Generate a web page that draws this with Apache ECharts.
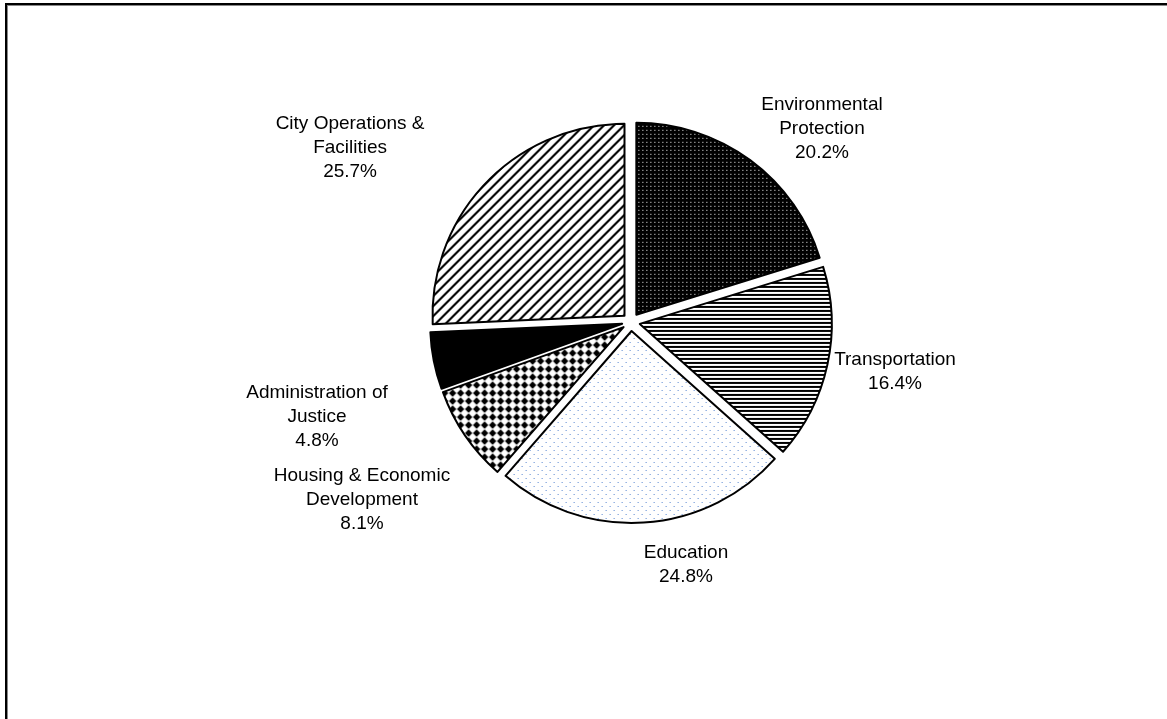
<!DOCTYPE html>
<html>
<head>
<meta charset="utf-8">
<script src="https://cdn.jsdelivr.net/npm/echarts@6/dist/echarts.min.js"></script>
<style>
  html, body { margin: 0; padding: 0; background: #fff; }
  #chart { width: 1167px; height: 719px; }
</style>
</head>
<body>
<div id="chart"></div>
<script>
// ---- data ----
const categories = [
  'Environmental\nProtection',
  'Transportation',
  'Education',
  'Housing & Economic\nDevelopment',
  'Administration of\nJustice',
  'City Operations &\nFacilities'
];
const shares = [20.2, 16.4, 24.8, 8.1, 4.8, 25.7];

// ---- style: label placement (label line lengths, line hidden) ----
const labelLen1 = [38.6, 34.8, 42.5, 114.2, 289.7, 50.8];
const labelLen2 = [43.9, 28.6, 34.7, 3.9, -172.4, 94];

// ---- patterns ----
function tile(w, h, draw) {
  const c = document.createElement('canvas');
  c.width = w; c.height = h;
  const ctx = c.getContext('2d');
  draw(ctx, w, h);
  return { image: c, repeat: 'repeat' };
}
function pixels(w, h, fn) {
  return tile(w, h, function (ctx) {
    const img = ctx.createImageData(w, h);
    for (let y = 0; y < h; y++) {
      for (let x = 0; x < w; x++) {
        const col = fn(x, y);
        const i = (y * w + x) * 4;
        img.data[i] = col[0]; img.data[i + 1] = col[1]; img.data[i + 2] = col[2]; img.data[i + 3] = 255;
      }
    }
    ctx.putImageData(img, 0, 0);
  });
}
const BLACK = [0, 0, 0], WHITE = [255, 255, 255];
const patDots = pixels(4, 4, (x, y) => (x === 1 && y === 1) ? WHITE : BLACK);
const patHoriz = pixels(4, 4, (x, y) => (y < 2) ? BLACK : WHITE);
const patBlue = pixels(8, 8, (x, y) => ((x === 1 && y === 1) || (x === 5 && y === 5)) ? [90, 135, 210] : WHITE);
const patDiamond = tile(8, 8, function (ctx) {
  ctx.fillStyle = '#fff'; ctx.fillRect(0, 0, 8, 8);
  ctx.fillStyle = '#000';
  ctx.beginPath();
  ctx.moveTo(4, 0.3); ctx.lineTo(7.7, 4); ctx.lineTo(4, 7.7); ctx.lineTo(0.3, 4);
  ctx.closePath(); ctx.fill();
});
const patDiag = pixels(10, 10, (x, y) => (((x + y) % 10) < 3) ? BLACK : WHITE);
const fills = [patDots, patHoriz, patBlue, patDiamond, '#000', patDiag];

const chart = echarts.init(document.getElementById('chart'), null, { renderer: 'canvas' });

const data = categories.map((name, i) => ({
  name: name,
  value: shares[i],
  selected: true,
  itemStyle: { color: fills[i] },
  labelLine: { show: false, length: labelLen1[i], length2: labelLen2[i] }
}));

chart.setOption({
  backgroundColor: '#fff',
  animation: false,
  graphic: [
    { type: 'rect', shape: { x: 5, y: 3, width: 1162, height: 2 }, style: { fill: '#000' } },
    { type: 'rect', shape: { x: 7, y: 5, width: 1160, height: 1 }, style: { fill: '#888' } },
    { type: 'rect', shape: { x: 5, y: 3, width: 2, height: 716 }, style: { fill: '#000' } },
    { type: 'rect', shape: { x: 7, y: 5, width: 1, height: 714 }, style: { fill: '#888' } }
  ],
  series: [{
    type: 'pie',
    center: [631, 322],
    radius: [0, 192],
    startAngle: 90,
    clockwise: true,
    selectedMode: 'multiple',
    selectedOffset: 9,
    avoidLabelOverlap: false,
    silent: true,
    emphasis: { disabled: true },
    itemStyle: { borderColor: '#000', borderWidth: 2 },
    select: { itemStyle: { borderColor: '#000', borderWidth: 2 } },
    label: {
      show: true,
      position: 'outside',
      color: '#000',
      fontFamily: '"Liberation Sans", Arial, sans-serif',
      fontSize: 19,
      lineHeight: 24,
      formatter: function (p) { return p.name + '\n' + p.value.toFixed(1) + '%'; }
    },
    labelLayout: function () { return { align: 'center', verticalAlign: 'middle' }; },
    labelLine: { show: false },
    data: data
  }]
});
</script>
</body>
</html>
